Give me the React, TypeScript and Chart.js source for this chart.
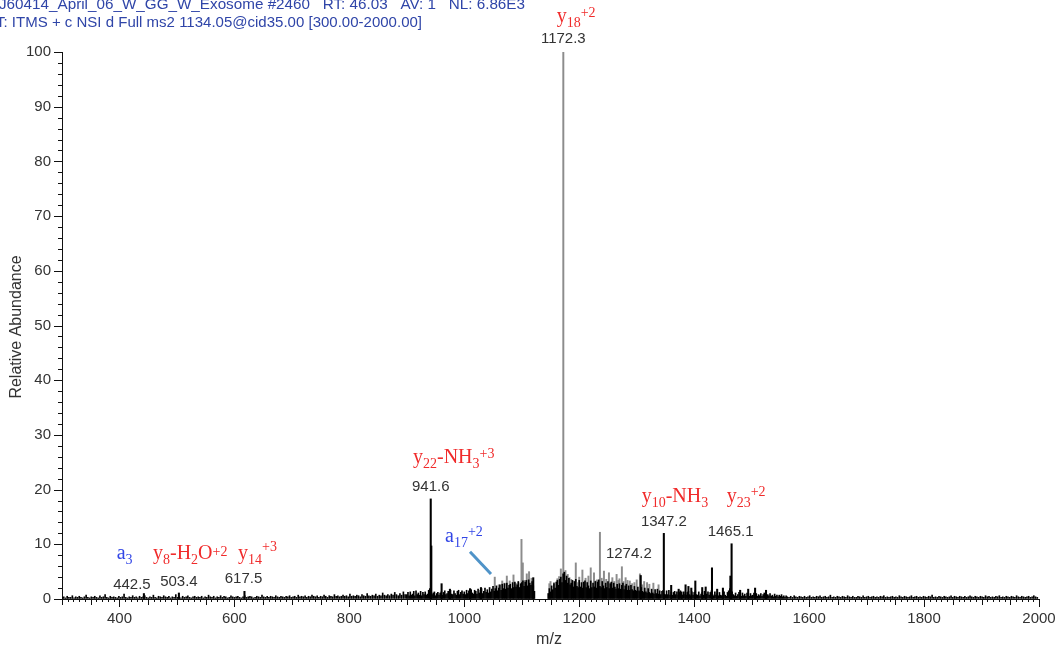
import React, { useEffect, useRef } from 'react';
import { Chart, registerables } from 'chart.js';

Chart.register(...registerables);

// ---------- header / axis text ----------
const headerLine1 = 'J60414_April_06_W_GG_W_Exosome #2460   RT: 46.03   AV: 1   NL: 6.86E3';
const headerLine2 = 'T: ITMS + c NSI d Full ms2 1134.05@cid35.00 [300.00-2000.00]';
const xAxisTitle = 'm/z';
const yAxisTitle = 'Relative Abundance';

// ---------- tick labels ----------
const xTickValues = [400, 600, 800, 1000, 1200, 1400, 1600, 1800, 2000];
const yTickValues = [0, 10, 20, 30, 40, 50, 60, 70, 80, 90, 100];

// ---------- labelled / prominent peaks ----------
const blackPeakMz = [442.5, 503.4, 617.5, 941.6, 942.6, 960.5, 975, 1010, 1029, 1120, 1307, 1347.2, 1360, 1373, 1378, 1385, 1390, 1395, 1402, 1414, 1420, 1431, 1440, 1450, 1463, 1465.1, 1480, 1494, 1506, 1525];
const blackPeakInt = [1.0, 1.1, 1.4, 18.3, 9.7, 2.8, 1.8, 1.9, 2.1, 3.9, 4.3, 12.0, 2.5, 1.8, 1.3, 2.6, 2.3, 2.0, 3.3, 2.1, 2.2, 5.7, 1.8, 2.0, 4.2, 10.1, 1.6, 1.8, 2.0, 1.6];

const greyPeakMz = [1053, 1060, 1066, 1070, 1074, 1079, 1085.6, 1090, 1094, 1099.5, 1101.8, 1105, 1108.7, 1112.7, 1117, 1148, 1150, 1156, 1162, 1165, 1168, 1172.3, 1176, 1180, 1183, 1186, 1190, 1194, 1198, 1200, 1205.5, 1209, 1211, 1214, 1216, 1220, 1225.7, 1228, 1231, 1236, 1239, 1243, 1247, 1251.7, 1254, 1257.6, 1261, 1265, 1268, 1270, 1274.2, 1277, 1280.7, 1284, 1288, 1292, 1296, 1300, 1305.6, 1310, 1313, 1318, 1322, 1329, 1338];
const greyPeakInt = [4.0, 2.6, 3.3, 2.9, 4.2, 3.3, 4.4, 2.8, 3.0, 10.9, 6.6, 3.4, 4.6, 5.0, 3.8, 2.8, 3.2, 3.0, 3.7, 4.1, 5.5, 100, 5.2, 4.5, 3.9, 3.6, 3.3, 6.6, 3.0, 4.0, 5.3, 2.7, 3.8, 3.1, 4.2, 5.7, 4.8, 3.3, 3.5, 12.2, 3.8, 5.1, 3.6, 4.8, 3.0, 3.9, 3.2, 4.5, 3.4, 3.7, 5.9, 3.2, 3.9, 3.4, 3.3, 2.8, 3.0, 3.5, 4.6, 2.6, 3.2, 3.0, 2.7, 2.9, 2.6];

// ---------- baseline noise (read by eye, sampled on a regular m/z grid) ----------
const noiseAStart = 300;
const noiseAStep = 3;
const noiseA = [
  0.3, 0.4, 0.2, 0.5, 0.3, 0.3, 0.6, 0.2, 0.4, 0.3,
  0.5, 0.3, 0.2, 0.4, 0.7, 0.3, 0.2, 0.4, 0.3, 0.5,
  0.3, 0.2, 0.6, 0.3, 0.4, 0.8, 0.3, 0.2, 0.5, 0.3,
  0.4, 0.3, 0.2, 0.5, 0.3, 0.4, 0.9, 0.3, 0.2, 0.4,
  0.3, 0.6, 0.3, 0.4, 0.2, 0.5, 0.3, 0.4, 0.6, 0.3,
  0.2, 0.4, 0.3, 0.7, 0.3, 0.2, 0.5, 0.4, 0.3, 0.6,
  0.4, 0.3, 0.5, 0.2, 0.4, 0.3, 0.8, 0.3, 0.4, 0.2,
  0.5, 0.3, 0.4, 0.6, 0.3, 0.2, 0.4, 0.5, 0.3, 0.4,
  0.3, 0.5, 0.2, 0.4, 0.3, 0.7, 0.4, 0.3, 0.5, 0.2,
  0.4, 0.3, 0.6, 0.3, 0.5, 0.4, 0.2, 0.3, 0.6, 0.4,
  0.3, 0.4, 0.5, 0.3, 0.2, 0.4, 0.6, 0.3, 0.4, 0.5,
  0.4, 0.2, 0.3, 0.5, 0.4, 0.3, 0.7, 0.4, 0.3, 0.5,
  0.3, 0.5, 0.4, 0.3, 0.6, 0.4, 0.3, 0.5, 0.4, 0.3,
  0.5, 0.4, 0.6, 0.3, 0.4, 0.5, 0.3, 0.7, 0.4, 0.5,
  0.4, 0.6, 0.3, 0.5, 0.4, 0.7, 0.5, 0.4, 0.6, 0.3,
  0.5, 0.4, 0.7, 0.5, 0.3, 0.6, 0.5, 0.4, 0.8, 0.5,
  0.6, 0.4, 0.5, 0.7, 0.5, 0.6, 0.4, 0.9, 0.5, 0.6,
  0.5, 0.7, 0.6, 0.4, 0.8, 0.6, 0.5, 1.0, 0.6, 0.5,
  0.7, 0.6, 0.9, 0.5, 0.7, 0.6, 1.1, 0.7, 0.6, 0.8,
  0.6, 0.9, 0.7, 1.2, 0.8, 0.6, 1.0, 0.7, 1.3, 0.8,
];

const noiseBStart = 900;
const noiseBStep = 2;
const noiseB = [
  0.8, 1.2, 0.6, 1.3, 0.7, 0.9, 1.4, 0.6, 1.5, 0.8,
  1.1, 0.7, 1.4, 0.6, 1.2, 0.8, 1.3, 0.7, 0.9, 1.6,
  1.9, 1.5, 0.8, 1.1, 1.3, 0.6, 1.0, 1.2, 0.7, 1.1,
  1.3, 0.7, 1.2, 1.5, 0.8, 1.0, 1.4, 0.7, 1.6, 0.9,
  0.8, 1.5, 1.0, 0.7, 1.4, 1.6, 0.8, 1.2, 1.5, 0.9,
  1.3, 0.8, 1.6, 1.0, 1.5, 0.8, 1.7, 1.1, 0.9, 1.6,
  1.4, 0.9, 1.8, 1.1, 1.6, 1.9, 1.0, 1.4, 2.0, 1.2,
  1.7, 1.1, 2.1, 1.3, 1.8, 2.3, 1.4, 1.9, 2.4, 1.5,
  2.0, 2.6, 1.6, 2.7, 1.9, 2.8, 1.8, 2.9, 2.0, 2.5,
  2.7, 1.9, 3.0, 2.1, 3.1, 2.2, 2.6, 3.2, 2.1, 2.8,
  3.0, 3.3, 2.3, 3.1, 3.4, 2.4, 3.5, 2.9, 2.5, 3.2,
  2.4, 1.4,
];

const noiseCStart = 1146;
const noiseCStep = 2;
const noiseC = [
  1.0, 1.9, 1.3, 2.4, 1.7, 2.8, 2.0, 3.1, 3.4, 2.5,
  3.6, 4.0, 3.0, 4.6, 4.9, 3.4, 4.2, 2.9, 3.8, 2.6,
  2.9, 3.4, 2.2, 3.2, 3.6, 2.3, 2.1, 3.4, 2.2, 3.0,
  2.0, 3.1, 3.3, 2.1, 3.0, 2.4, 1.9, 3.3, 2.1, 2.9,
  2.2, 3.2, 2.0, 3.1, 3.5, 2.3, 2.1, 3.2, 2.4, 1.9,
  2.9, 2.1, 3.2, 1.9, 2.8, 3.1, 2.0, 2.9, 2.2, 1.8,
  2.7, 1.9, 2.8, 1.8, 2.5, 2.9, 1.7, 2.4, 2.7, 1.6,
  2.4, 1.6, 2.5, 1.7, 1.5, 2.3, 1.6, 1.4, 2.2, 1.5,
  1.3, 2.1, 1.4, 1.2, 2.0, 1.3, 1.1, 1.9, 1.2, 1.0,
  1.8, 1.1, 0.9, 1.7, 1.0, 1.8, 0.9, 1.5, 0.8, 1.4,
  1.6, 0.9, 0.8, 1.5, 0.8, 1.6, 0.7, 1.3, 0.7, 1.2,
  1.4, 0.8, 1.3, 0.7, 1.2, 1.5, 0.8, 0.7, 1.3, 0.8,
  0.7, 1.2, 1.4, 0.8, 0.6, 1.3, 0.7, 1.2, 1.5, 0.8,
  0.7, 1.3, 0.6, 0.9, 1.2, 0.7, 1.4, 0.6, 0.9, 1.3,
  0.7, 1.2, 1.5, 0.8, 0.6, 1.3, 0.7, 1.0, 0.6, 1.2,
  0.7, 0.6, 1.1, 1.3, 0.7, 0.5, 1.2, 1.5, 1.9, 1.7,
  1.3, 0.8, 0.6, 1.1, 0.5, 0.8, 1.2, 0.6, 0.5, 1.1,
  0.6, 0.9, 0.5, 1.1, 0.7, 0.5, 1.0, 0.6, 0.7, 1.1,
  0.6, 1.0, 0.5, 0.8, 0.6, 1.0, 0.5, 0.8, 1.1, 0.6,
  0.5, 0.8, 0.6, 1.0, 0.5, 0.7, 0.4, 0.9, 0.5, 0.7,
  0.4, 0.7, 0.5, 0.8, 0.4, 0.6, 0.3, 0.6,
];

const noiseDStart = 1562;
const noiseDStep = 3;
const noiseD = [
  0.4, 0.3, 0.5, 0.3, 0.6, 0.4, 0.3, 0.5, 0.4, 0.3,
  0.5, 0.3, 0.4, 0.6, 0.3, 0.4, 0.3, 0.5, 0.4, 0.6,
  0.3, 0.4, 0.5, 0.3, 0.4, 0.7, 0.3, 0.4, 0.3, 0.5,
  0.4, 0.3, 0.5, 0.4, 0.3, 0.6, 0.4, 0.3, 0.5, 0.3,
  0.3, 0.5, 0.4, 0.3, 0.6, 0.3, 0.4, 0.5, 0.3, 0.4,
  0.5, 0.3, 0.4, 0.3, 0.5, 0.4, 0.6, 0.3, 0.4, 0.3,
  0.4, 0.5, 0.3, 0.4, 0.3, 0.6, 0.4, 0.3, 0.5, 0.4,
  0.3, 0.4, 0.6, 0.3, 0.4, 0.5, 0.3, 0.4, 0.3, 0.5,
  0.4, 0.3, 0.5, 0.4, 0.7, 0.3, 0.4, 0.3, 0.5, 0.4,
  0.3, 0.5, 0.4, 0.3, 0.4, 0.6, 0.3, 0.5, 0.4, 0.3,
  0.5, 0.4, 0.3, 0.5, 0.3, 0.4, 0.6, 0.4, 0.3, 0.5,
  0.4, 0.3, 0.5, 0.4, 0.3, 0.6, 0.4, 0.5, 0.3, 0.4,
  0.3, 0.5, 0.4, 0.6, 0.3, 0.4, 0.3, 0.5, 0.4, 0.3,
  0.5, 0.4, 0.3, 0.6, 0.4, 0.3, 0.5, 0.4, 0.3, 0.4,
  0.5, 0.3, 0.4, 0.6, 0.4, 0.3,
];

// ---------- peak m/z labels ----------
const mzLabelValues = [1172.3, 941.6, 1347.2, 1465.1, 1274.2, 442.5, 503.4, 617.5];
const mzLabelHeights = [100, 18.3, 12.0, 10.1, 5.9, 1.0, 1.1, 1.4];

// ---------- layout / style (not data) ----------
const RED = '#f02b2b';
const BLUE = '#3246e6';
const LABEL_GREY = '#333333';
const mzLabelDx = [0, 0, 0, -1, 7, -12, 0, -1];
const mzLabelDy = [-13, -12, -12, -12, -13, -9, -11, -12];

type Seg = [string, ('n' | 'b' | 'p')?, number?];
const ionLabels: { x: number; y: number; color: string; segs: Seg[] }[] = [
  { x: 556.7, y: 22, color: RED, segs: [['y'], ['18', 'b'], ['+2', 'p', -5]] },
  { x: 413, y: 463.3, color: RED, segs: [['y'], ['22', 'b'], ['-NH'], ['3', 'b'], ['+3', 'p', -5.5]] },
  { x: 641.7, y: 501.7, color: RED, segs: [['y'], ['10', 'b'], ['-NH'], ['3', 'b']] },
  { x: 726.7, y: 501.7, color: RED, segs: [['y'], ['23', 'b'], ['+2', 'p', -5.7]] },
  { x: 445, y: 541.7, color: BLUE, segs: [['a'], ['17', 'b'], ['+2', 'p', -5.7]] },
  { x: 116.7, y: 559, color: BLUE, segs: [['a'], ['3', 'b']] },
  { x: 153, y: 559.3, color: RED, segs: [['y'], ['8', 'b'], ['-H'], ['2', 'b'], ['O'], ['+2', 'p', -3.3]] },
  { x: 238, y: 559.3, color: RED, segs: [['y'], ['14', 'b'], ['+3', 'p', -8]] },
];

function toPoints(xs: number[], ys: number[]) {
  return xs.map((x, i) => ({ x, y: ys[i] }));
}
function gridPoints(start: number, step: number, ys: number[]) {
  return ys.map((y, i) => ({ x: start + i * step, y }));
}

function drawRich(ctx: CanvasRenderingContext2D, x: number, y: number, segs: Seg[], color: string) {
  ctx.fillStyle = color;
  ctx.textAlign = 'left';
  ctx.textBaseline = 'alphabetic';
  let cx = x;
  for (const s of segs) {
    const kind = s[1] || 'n';
    const size = kind === 'n' ? 20 : 14;
    ctx.font = `${size}px "Liberation Serif", "Times New Roman", serif`;
    const dy = s[2] !== undefined ? s[2] : kind === 'b' ? 5 : kind === 'p' ? -6 : 0;
    ctx.fillText(s[0], cx, y + dy);
    cx += ctx.measureText(s[0]).width;
  }
}

const overlayPlugin = {
  id: 'overlay',
  afterDraw(chart: any) {
    const ctx: CanvasRenderingContext2D = chart.ctx;
    const xs = chart.scales.x;
    const ys = chart.scales.y;
    const area = chart.chartArea;
    ctx.save();

    // minor / major ticks
    ctx.strokeStyle = '#111';
    ctx.lineWidth = 1;
    ctx.beginPath();
    for (let v = 300; v <= 2000; v += 10) {
      const px = Math.round(xs.getPixelForValue(v)) + 0.5;
      const len = v % 200 === 0 ? 8 : v % 50 === 0 ? 6 : 3;
      ctx.moveTo(px, area.bottom);
      ctx.lineTo(px, area.bottom + len);
    }
    for (let v = 0; v <= 100; v += 2) {
      const py = Math.round(ys.getPixelForValue(v)) + 0.5;
      const len = v % 10 === 0 ? 8 : 4;
      ctx.moveTo(area.left, py);
      ctx.lineTo(area.left - len, py);
    }
    ctx.stroke();

    // header
    ctx.fillStyle = '#2f45a8';
    ctx.textAlign = 'left';
    ctx.textBaseline = 'alphabetic';
    ctx.font = '14px "Liberation Sans", Arial, sans-serif';
    const drawFit = (t: string, x: number, y: number, w: number) => {
      const m = ctx.measureText(t).width;
      ctx.save();
      ctx.translate(x, y);
      ctx.scale(w / m, 1);
      ctx.fillText(t, 0, 0);
      ctx.restore();
    };
    drawFit(headerLine1, -1, 9, 526);
    drawFit(headerLine2, -4, 27, 426);

    // axis titles
    ctx.fillStyle = LABEL_GREY;
    ctx.font = '16px "Liberation Sans", Arial, sans-serif';
    ctx.textAlign = 'center';
    ctx.textBaseline = 'middle';
    ctx.fillText(xAxisTitle, 549, 640);
    ctx.save();
    ctx.translate(17, 327);
    ctx.rotate(-Math.PI / 2);
    ctx.fillText(yAxisTitle, 0, 0);
    ctx.restore();

    // m/z labels
    ctx.font = '15px "Liberation Sans", Arial, sans-serif';
    ctx.fillStyle = LABEL_GREY;
    mzLabelValues.forEach((mz, i) => {
      const px = xs.getPixelForValue(mz) + mzLabelDx[i];
      const py = ys.getPixelForValue(mzLabelHeights[i]) + mzLabelDy[i];
      ctx.fillText(mz.toFixed(1), px, py);
    });

    // ion annotations
    ionLabels.forEach((l) => drawRich(ctx, l.x, l.y, l.segs, l.color));

    // a17 pointer
    ctx.strokeStyle = '#4f93c8';
    ctx.lineWidth = 3;
    ctx.beginPath();
    ctx.moveTo(470, 551.7);
    ctx.lineTo(491, 574);
    ctx.stroke();

    ctx.restore();
  },
};

export default function App() {
  const ref = useRef<HTMLCanvasElement>(null);
  useEffect(() => {
    document.body.style.margin = '0';
    const noise = [
      ...gridPoints(noiseAStart, noiseAStep, noiseA),
      ...gridPoints(noiseBStart, noiseBStep, noiseB),
      ...gridPoints(noiseCStart, noiseCStep, noiseC),
      ...gridPoints(noiseDStart, noiseDStep, noiseD),
    ];
    const chart = new Chart(ref.current as HTMLCanvasElement, {
      type: 'bar',
      data: {
        datasets: [
          {
            label: 'grey peaks',
            data: toPoints(greyPeakMz, greyPeakInt) as any,
            backgroundColor: '#8c8c8c',
            barThickness: 1.3,
            grouped: false,
            order: 3,
            borderWidth: 0,
          } as any,
          {
            label: 'noise',
            data: noise as any,
            backgroundColor: '#000000',
            barThickness: 1.0,
            grouped: false,
            order: 2,
            borderWidth: 0,
          } as any,
          {
            label: 'black peaks',
            data: toPoints(blackPeakMz, blackPeakInt) as any,
            backgroundColor: '#000000',
            barThickness: 1.4,
            grouped: false,
            order: 1,
            borderWidth: 0,
          } as any,
        ],
      },
      options: {
        responsive: false,
        animation: false,
        devicePixelRatio: 1,
        layout: { padding: { top: 52, right: 20, left: 0, bottom: 0 } },
        plugins: { legend: { display: false }, tooltip: { enabled: false } },
        scales: {
          x: {
            type: 'linear',
            min: 300,
            max: 2000,
            offset: false,
            afterBuildTicks: (s: any) => {
              s.ticks = xTickValues.map((v) => ({ value: v }));
            },
            afterFit: (s: any) => {
              s.height = 55;
            },
            grid: { display: true, drawOnChartArea: false, drawTicks: true, tickLength: 8, color: 'rgba(0,0,0,0)', offset: false },
            border: { display: true, color: '#111', width: 1 },
            ticks: {
              autoSkip: false,
              maxRotation: 0,
              padding: 3,
              color: LABEL_GREY,
              font: { family: '"Liberation Sans", Arial, sans-serif', size: 15 },
              callback: (v: any) => String(v),
            },
          },
          y: {
            type: 'linear',
            min: 0,
            max: 100,
            afterBuildTicks: (s: any) => {
              s.ticks = yTickValues.map((v) => ({ value: v }));
            },
            afterFit: (s: any) => {
              s.width = 62;
            },
            grid: { display: true, drawOnChartArea: false, drawTicks: true, tickLength: 8, color: 'rgba(0,0,0,0)' },
            border: { display: true, color: '#111', width: 1 },
            ticks: {
              autoSkip: false,
              padding: 3,
              color: LABEL_GREY,
              font: { family: '"Liberation Sans", Arial, sans-serif', size: 15 },
              callback: (v: any) => String(v),
            },
          },
        },
      },
      plugins: [overlayPlugin],
    } as any);
    return () => chart.destroy();
  }, []);
  return (
    <div style={{ width: 1059, height: 654, background: '#fff' }}>
      <canvas ref={ref} width={1059} height={654} style={{ display: 'block', width: 1059, height: 654 }} />
    </div>
  );
}
